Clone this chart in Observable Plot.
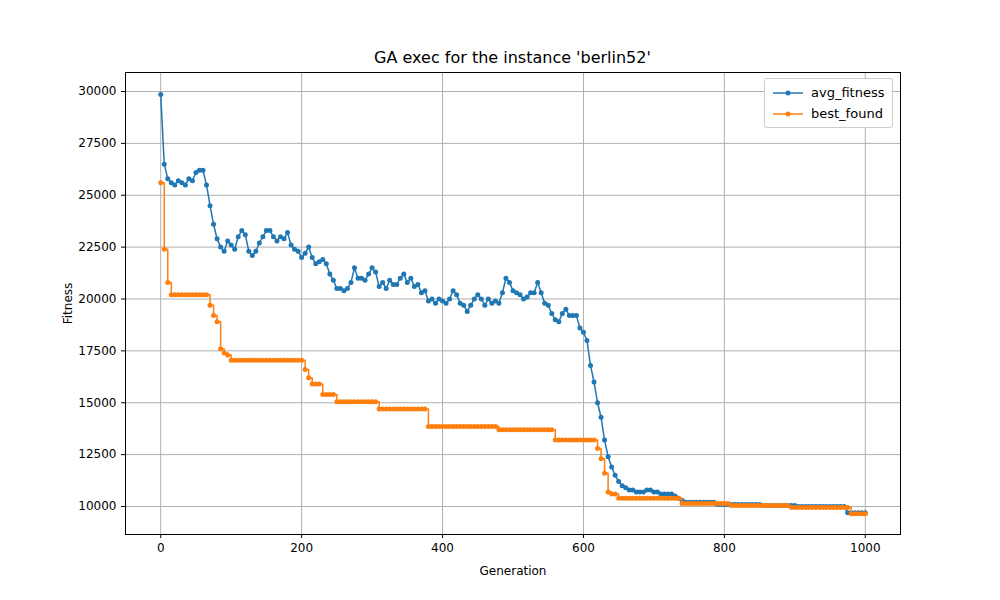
<!DOCTYPE html>
<html><head>
<script src="https://cdn.jsdelivr.net/npm/d3@7"></script>
<script src="https://cdn.jsdelivr.net/npm/@observablehq/plot@0.6"></script>
<style>
body{margin:0;background:#fff;font-family:"DejaVu Sans",sans-serif;}
#wrap{position:relative;width:1000px;height:600px;}
#title{position:absolute;top:48px;left:0;width:1025px;text-align:center;font-size:16px;}
#legend{position:absolute;top:78px;left:764px;border:1px solid #ccc;border-radius:3px;padding:3px 8px;font-size:13px;background:#fff;}
#legend div{display:flex;align-items:center;height:21px;}
#legend svg{margin-right:8px;}
</style>
</head><body>
<div id="wrap"><div id="chart"></div><div id="title">GA exec for the instance 'berlin52'</div>
<div id="legend">
<div><svg width="30" height="10"><line x1="0" x2="30" y1="5" y2="5" stroke="#1f77b4" stroke-width="1.5"/><circle cx="15" cy="5" r="2.5" fill="#1f77b4"/></svg>avg_fitness</div>
<div><svg width="30" height="10"><line x1="0" x2="30" y1="5" y2="5" stroke="#ff7f0e" stroke-width="1.5"/><circle cx="15" cy="5" r="2.5" fill="#ff7f0e"/></svg>best_found</div>
</div></div>
<script>
const generations = d3.range(0, 1001, 5)
const avgFitness = [29850,26500,25800,25600,25500,25700,25600,25500,25800,25700,26100,26200,26200,25500,24500,23600,22900,22500,22300,22800,
22600,22400,23000,23300,23100,22300,22100,22300,22700,23000,23300,23300,23000,22800,23000,22900,23200,22600,22400,22300,
22000,22200,22500,22000,21700,21800,21900,21700,21200,20900,20500,20500,20400,20500,20800,21500,21000,21000,20900,21200,
21500,21300,20600,20800,20500,20900,20700,20700,21000,21200,20800,21000,20600,20700,20300,20400,19900,20000,19800,20000,
19900,19800,20000,20400,20200,19800,19700,19400,19700,20000,20200,20000,19700,20000,19800,19900,19800,20300,21000,20800,
20400,20300,20200,20000,20100,20300,20300,20800,20300,19800,19700,19300,19000,18900,19300,19500,19200,19200,19200,18600,
18400,18000,16800,16000,15000,14300,13200,12400,11900,11500,11200,11000,10900,10800,10800,10700,10700,10700,10800,10800,
10700,10700,10600,10600,10600,10600,10500,10400,10300,10200,10200,10200,10200,10200,10200,10200,10200,10200,10100,10100,
10100,10100,10100,10100,10100,10100,10100,10100,10100,10100,10100,10050,10050,10050,10050,10050,10050,10050,10050,10050,
10050,10000,10000,10000,10000,10000,10000,10000,10000,10000,10000,10000,10000,10000,10000,9700,9700,9700,9700,9700,9700]
const bestFound = [25600,22400,20800,20200,20200,20200,20200,20200,20200,20200,20200,20200,20200,20200,19700,19200,18900,17600,17400,17300,
17050,17050,17050,17050,17050,17050,17050,17050,17050,17050,17050,17050,17050,17050,17050,17050,17050,17050,17050,17050,
17050,16600,16200,15900,15900,15900,15400,15400,15400,15400,15050,15050,15050,15050,15050,15050,15050,15050,15050,15050,
15050,15050,14700,14700,14700,14700,14700,14700,14700,14700,14700,14700,14700,14700,14700,14700,13850,13850,13850,13850,
13850,13850,13850,13850,13850,13850,13850,13850,13850,13850,13850,13850,13850,13850,13850,13850,13700,13700,13700,13700,
13700,13700,13700,13700,13700,13700,13700,13700,13700,13700,13700,13700,13200,13200,13200,13200,13200,13200,13200,13200,
13200,13200,13200,13200,12800,12300,11600,10700,10600,10600,10400,10400,10400,10400,10400,10400,10400,10400,10400,10400,
10400,10400,10400,10400,10400,10400,10400,10400,10150,10150,10150,10150,10150,10150,10150,10150,10150,10150,10150,10150,
10150,10150,10050,10050,10050,10050,10050,10050,10050,10050,10050,10050,10050,10050,10050,10050,10050,10050,10050,9950,
9950,9950,9950,9950,9950,9950,9950,9950,9950,9950,9950,9950,9950,9950,9950,9950,9650,9650,9650,9650,9650,9650]

const rows = generations.map((g, i) => ({g, avg: avgFitness[i], best: bestFound[i]}))
const xt = [0, 200, 400, 600, 800, 1000]
const yt = d3.range(10000, 30001, 2500)

const chart = Plot.plot({
  width: 1000, height: 600,
  marginTop: 72, marginBottom: 66, marginLeft: 125, marginRight: 100,
  style: {fontFamily: "DejaVu Sans", fontSize: "12px", color: "#000"},
  x: {domain: [-50, 1050]},
  y: {domain: [8650, 30916]},
  marks: [
    Plot.gridX(xt, {stroke: "#b0b0b0", strokeOpacity: 1}),
    Plot.gridY(yt, {stroke: "#b0b0b0", strokeOpacity: 1}),
    Plot.axisX({ticks: xt, tickSize: 4, tickFormat: d => String(d), fontSize: 12, label: "Generation", labelAnchor: "center", labelArrow: "none", labelOffset: 40}),
    Plot.axisY({ticks: yt, tickSize: 4, tickFormat: d => String(d), fontSize: 12, label: "Fitness", labelAnchor: "center", labelArrow: "none", labelOffset: 62}),
    Plot.frame({stroke: "#000"}),
    Plot.line(rows, {x: "g", y: "avg", stroke: "#1f77b4", strokeWidth: 1.5}),
    Plot.dot(rows, {x: "g", y: "avg", fill: "#1f77b4", r: 2.5}),
    Plot.line(rows, {x: "g", y: "best", stroke: "#ff7f0e", strokeWidth: 1.5, curve: "step-after"}),
    Plot.dot(rows, {x: "g", y: "best", fill: "#ff7f0e", r: 2.5})
  ]
})
document.getElementById("chart").append(chart)
</script>
</body></html>
